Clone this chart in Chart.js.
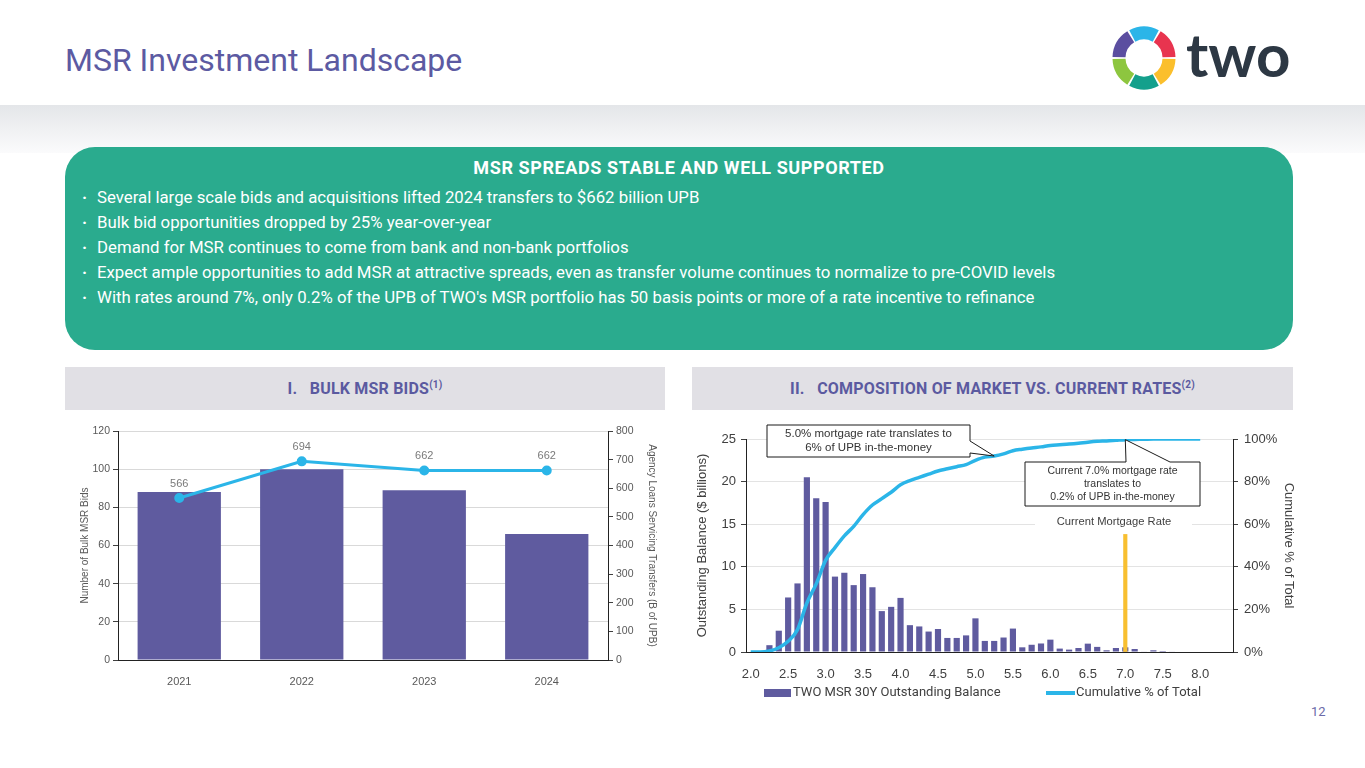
<!DOCTYPE html>
<html>
<head>
<meta charset="utf-8">
<script src="https://cdn.jsdelivr.net/npm/chart.js@4.4.1/dist/chart.umd.min.js"></script>
<style>
  body { margin: 0; background: #fff; }
  #page { position: relative; width: 1365px; height: 768px; overflow: hidden; background: #fff; font-family: Roboto, "Liberation Sans", sans-serif; }
  .title { position: absolute; left: 65px; top: 44px; font-size: 32px; line-height: 32px; color: #5c5aa2; }
  .band { position: absolute; left: 0; top: 105px; width: 1365px; height: 48px; background: linear-gradient(#e4e6e9, #fbfbfc); }
  .box { position: absolute; left: 65px; top: 147px; width: 1228px; height: 203px; background: #2aab8e; border-radius: 30px; color: #fff; }
  .boxtitle { position: absolute; left: 0; width: 100%; top: 10px; text-align: center; font-family: Roboto, sans-serif; font-weight: bold; font-size: 18px; letter-spacing: 0.6px; }
  .bullets { position: absolute; left: 17px; top: 38px; margin: 0; padding: 0; list-style: none; font-size: 16.8px; line-height: 25px; }
  .bullets li::before { content: "\00B7"; display: inline-block; width: 15px; font-weight: bold; }
  .hdr { position: absolute; top: 367px; width: 600px; height: 43px; background: #e1e0e5; color: #5b5aa0; text-align: center; line-height: 43px; font-family: Roboto, sans-serif; font-weight: bold; font-size: 16px; letter-spacing: 0.2px; }
  .hdr sup { font-size: 10px; line-height: 0; }
  .pnum { position: absolute; left: 1311px; top: 704px; font-size: 13px; color: #6b6aa8; }
  #c1wrap { position: absolute; left: 70px; top: 420px; width: 598px; height: 272px; }
  #c2wrap { position: absolute; left: 690px; top: 420px; width: 615px; height: 295px; }
  .logo { position: absolute; left: 1108px; top: 22px; width: 190px; height: 72px; }
</style>
</head>
<body>
<div id="page">
  <div class="title">MSR Investment Landscape</div>
  <svg class="logo" viewBox="0 0 190 72">
    <g fill="none" stroke-width="13" stroke-linecap="butt">
      <path d="M 24.26 13.93 A 25 25 0 0 1 47.74 13.93" stroke="#2bb5e8" transform="rotate(0 36 36)"/>
      <path d="M 24.26 13.93 A 25 25 0 0 1 47.74 13.93" stroke="#e8344f" transform="rotate(60 36 36)"/>
      <path d="M 24.26 13.93 A 25 25 0 0 1 47.74 13.93" stroke="#fbbf2c" transform="rotate(120 36 36)"/>
      <path d="M 24.26 13.93 A 25 25 0 0 1 47.74 13.93" stroke="#14a08c" transform="rotate(180 36 36)"/>
      <path d="M 24.26 13.93 A 25 25 0 0 1 47.74 13.93" stroke="#8dc63f" transform="rotate(240 36 36)"/>
      <path d="M 24.26 13.93 A 25 25 0 0 1 47.74 13.93" stroke="#5b4ea0" transform="rotate(300 36 36)"/>
    </g>
    <text x="78" y="55" font-family="Lato, 'Open Sans', sans-serif" font-weight="bold" font-size="60" fill="#2d3844">two</text>
  </svg>
  <div class="band"></div>
  <div class="box">
    <div class="boxtitle">MSR SPREADS STABLE AND WELL SUPPORTED</div>
    <ul class="bullets">
      <li>Several large scale bids and acquisitions lifted 2024 transfers to $662 billion UPB</li>
      <li>Bulk bid opportunities dropped by 25% year-over-year</li>
      <li>Demand for MSR continues to come from bank and non-bank portfolios</li>
      <li>Expect ample opportunities to add MSR at attractive spreads, even as transfer volume continues to normalize to pre-COVID levels</li>
      <li>With rates around 7%, only 0.2% of the UPB of TWO's MSR portfolio has 50 basis points or more of a rate incentive to refinance</li>
    </ul>
  </div>
  <div class="hdr" style="left:65px">I.&nbsp;&nbsp;&nbsp;BULK MSR BIDS<sup>(1)</sup></div>
  <div class="hdr" style="left:692px; width:601px">II.&nbsp;&nbsp;&nbsp;COMPOSITION OF MARKET VS. CURRENT RATES<sup>(2)</sup></div>
  <div id="c1wrap"><canvas id="bids"></canvas></div>
  <div id="c2wrap"><canvas id="rates"></canvas></div>
  <div class="pnum">12</div>
</div>
<script>
// ---- chart I data
const bidYears = ['2021', '2022', '2023', '2024'];
const bulkBids = [88, 100, 89, 66];
const transfersB = [566, 694, 662, 662];

// ---- chart II data
const rateBuckets = ['2.0','2.125','2.25','2.375','2.5','2.625','2.75','2.875','3.0','3.125','3.25','3.375',
  '3.5','3.625','3.75','3.875','4.0','4.125','4.25','4.375','4.5','4.625','4.75','4.875','5.0','5.125','5.25',
  '5.375','5.5','5.625','5.75','5.875','6.0','6.125','6.25','6.375','6.5','6.625','6.75','6.875','7.0','7.125',
  '7.25','7.375','7.5','7.625','7.75','7.875','8.0','8.125','8.25','8.375'];
const balanceBn = [0, 0, 0.8, 2.5, 6.4, 8.05, 20.5, 18.05, 17.6, 8.85, 9.3, 7.85,
  9.15, 7.6, 4.8, 5.3, 6.35, 3.15, 3.0, 2.4, 2.7, 1.65, 1.65, 1.95, 3.95, 1.3, 1.3,
  1.7, 2.75, 0.55, 0.85, 1.0, 1.45, 0.4, 0.28, 0.47, 0.98, 0.6, 0.2, 0.47, 0.55, 0.35,
  0.05, 0.2, 0.12, 0.05, 0, 0, 0, 0, 0, 0];
const cumulativePct = [0, 0, 0.5, 2, 5, 10.5, 23, 32, 43, 49, 54.5, 59,
  64.5, 69, 72, 75, 78.5, 80.5, 82, 83.5, 85, 86, 87, 88, 90, 91.5, 92,
  93, 94.5, 95.2, 95.8, 96.3, 97, 97.3, 97.6, 98, 98.5, 98.9, 99.1, 99.4, 99.7, 99.8,
  99.9, 100, 100, 100, 100, 100, 100, null, null, null];
const rateTickLabels = ['2.0','2.5','3.0','3.5','4.0','4.5','5.0','5.5','6.0','6.5','7.0','7.5','8.0'];
const currentRate = '7.0';
const currentRateMarker = 13.8;

const PURPLE = '#5f5b9f', CYAN = '#2bb5e8', YELLOW = '#f8bf30';
Chart.defaults.font.family = '"Liberation Sans", Arial, sans-serif';

// labels above the transfer line points
const pointLabels = {
  id: 'pointLabels',
  afterDatasetsDraw(chart) {
    const ctx = chart.ctx;
    const meta = chart.getDatasetMeta(0);
    ctx.save();
    ctx.font = '11px "Liberation Sans"';
    ctx.fillStyle = '#7a7a7a';
    ctx.textAlign = 'center';
    ctx.textBaseline = 'bottom';
    meta.data.forEach((pt, i) => ctx.fillText(transfersB[i], pt.x, pt.y - 9));
    ctx.restore();
  }
};

new Chart(document.getElementById('bids'), {
  type: 'bar',
  data: {
    labels: bidYears,
    datasets: [
      {
        type: 'line',
        label: 'Agency Loans Servicing Transfers',
        data: transfersB,
        yAxisID: 'y1',
        borderColor: CYAN,
        backgroundColor: CYAN,
        borderWidth: 3,
        pointRadius: 3.5,
        pointBackgroundColor: CYAN,
        order: 0
      },
      {
        label: 'Number of Bulk MSR Bids',
        data: bulkBids,
        yAxisID: 'y',
        backgroundColor: PURPLE,
        barPercentage: 0.68,
        categoryPercentage: 1,
        order: 1
      }
    ]
  },
  options: {
    responsive: true,
    maintainAspectRatio: false,
    animation: false,
    layout: { padding: { top: 11, left: 0, right: 0, bottom: 0 } },
    plugins: { legend: { display: false }, tooltip: { enabled: false } },
    scales: {
      x: {
        grid: { display: false },
        border: { display: true, color: '#222', width: 1 },
        ticks: { color: '#595959', font: { size: 11 }, padding: 7 },
        afterFit(s) { s.height = 32; }
      },
      y: {
        position: 'left',
        min: 0, max: 120,
        ticks: { stepSize: 20, color: '#595959', font: { size: 10.5 }, padding: 3 },
        grid: { color: '#d9d9d9', tickColor: '#404040', tickLength: 5 },
        border: { display: true, color: '#222', width: 1 },
        title: { display: true, text: 'Number of Bulk MSR Bids', color: '#595959', font: { size: 10 }, padding: { top: 9 } },
        afterFit(s) { s.width = 48; }
      },
      y1: {
        position: 'right',
        min: 0, max: 800,
        ticks: { stepSize: 100, color: '#595959', font: { size: 10.5 }, padding: 3 },
        grid: { drawOnChartArea: false, tickColor: '#404040', tickLength: 5 },
        border: { display: true, color: '#222', width: 1 },
        title: { display: true, text: 'Agency Loans Servicing Transfers (B of UPB)', color: '#595959', font: { size: 10 }, padding: { top: 10 } },
        afterFit(s) { s.width = 60; }
      }
    }
  },
  plugins: [pointLabels]
});

// callout boxes and the "Current Mortgage Rate" label
function calloutText(ctx, lines, cx, top, lh) {
  lines.forEach((t, i) => ctx.fillText(t, cx, top + lh * (i + 0.5)));
}
const rateNotes = {
  id: 'rateNotes',
  beforeDatasetsDraw(chart) {
    const { ctx, chartArea: a, scales: { y1 } } = chart;
    const ty = y1.getPixelForValue(60) - 2;
    ctx.save();
    ctx.fillStyle = '#fff';
    ctx.fillRect(a.left + 289, ty - 7, 157, 14);
    ctx.font = '11.2px "Liberation Sans"';
    ctx.fillStyle = '#404040';
    ctx.textAlign = 'center';
    ctx.textBaseline = 'middle';
    ctx.fillText('Current Mortgage Rate', a.left + 368, ty);
    ctx.restore();
  },
  afterDraw(chart) {
    const { ctx, chartArea: a, scales: { x, y1 } } = chart;
    ctx.save();
    ctx.lineWidth = 1;
    ctx.strokeStyle = '#1a1a1a';
    ctx.fillStyle = '#fff';
    // box 1: 5.0% note, pointing to the curve
    let L = a.left + 21, T = a.top - 14, W = 203, H = 32;
    let tx = x.getPixelForValue(26), ty = y1.getPixelForValue(cumulativePct[26]);
    ctx.beginPath();
    ctx.moveTo(L, T); ctx.lineTo(L + W, T); ctx.lineTo(L + W, T + 16);
    ctx.lineTo(tx, ty); ctx.lineTo(L + W, T + 28); ctx.lineTo(L + W, T + H);
    ctx.lineTo(L, T + H); ctx.closePath();
    ctx.fill(); ctx.stroke();
    ctx.fillStyle = '#333';
    ctx.font = '11.5px "Liberation Sans"';
    ctx.textAlign = 'center';
    ctx.textBaseline = 'middle';
    calloutText(ctx, ['5.0% mortgage rate translates to', '6% of UPB in-the-money'], L + W / 2, T + 2, 14);
    // box 2: current 7.0% note
    L = a.left + 279; T = a.top + 23; W = 175; H = 44;
    tx = x.getPixelForValue(40); ty = y1.getPixelForValue(cumulativePct[40]);
    ctx.fillStyle = '#fff';
    ctx.beginPath();
    ctx.moveTo(L, T); ctx.lineTo(L + 101, T); ctx.lineTo(tx, ty); ctx.lineTo(L + 145, T);
    ctx.lineTo(L + W, T); ctx.lineTo(L + W, T + H); ctx.lineTo(L, T + H); ctx.closePath();
    ctx.fill(); ctx.stroke();
    ctx.fillStyle = '#333';
    ctx.font = '10.5px "Liberation Sans"';
    calloutText(ctx, ['Current 7.0% mortgage rate', 'translates to', '0.2% of UPB in-the-money'], L + W / 2, T + 3, 13);
    ctx.restore();
  }
};

// legend drawn under the axis from the dataset styles
const rateLegend = {
  id: 'rateLegend',
  afterDraw(chart) {
    const { ctx, chartArea: a } = chart;
    const ds = chart.data.datasets;
    const y = a.bottom + 41;
    ctx.save();
    ctx.font = '13px Roboto';
    ctx.textBaseline = 'middle';
    ctx.fillStyle = ds[2].backgroundColor;
    ctx.fillRect(a.left + 18, y - 4, 27, 8);
    ctx.fillStyle = '#404040';
    ctx.fillText(ds[2].label, a.left + 47, y);
    ctx.strokeStyle = ds[0].borderColor;
    ctx.lineWidth = 4;
    ctx.beginPath(); ctx.moveTo(a.left + 300, y); ctx.lineTo(a.left + 329, y); ctx.stroke();
    ctx.fillText(ds[0].label, a.left + 330, y);
    ctx.restore();
  }
};

new Chart(document.getElementById('rates'), {
  type: 'bar',
  data: {
    labels: rateBuckets,
    datasets: [
      {
        type: 'line',
        label: 'Cumulative % of Total',
        data: cumulativePct,
        yAxisID: 'y1',
        borderColor: CYAN,
        borderWidth: 3.5,
        pointRadius: 0,
        cubicInterpolationMode: 'monotone',
        order: 0
      },
      {
        label: 'Current Mortgage Rate',
        data: [{ x: currentRate, y: currentRateMarker }],
        yAxisID: 'y',
        backgroundColor: YELLOW,
        barThickness: 3.5,
        grouped: false,
        order: 1
      },
      {
        label: 'TWO MSR 30Y Outstanding Balance',
        data: balanceBn,
        yAxisID: 'y',
        backgroundColor: PURPLE,
        barPercentage: 0.66,
        categoryPercentage: 1,
        grouped: false,
        order: 2
      }
    ]
  },
  options: {
    responsive: true,
    maintainAspectRatio: false,
    animation: false,
    layout: { padding: { top: 19, left: 0, right: 0, bottom: 35 } },
    plugins: { legend: { display: false }, tooltip: { enabled: false } },
    scales: {
      x: {
        grid: { display: false },
        border: { display: true, color: '#222', width: 1 },
        ticks: {
          autoSkip: false, maxRotation: 0, color: '#404040', font: { size: 13 }, padding: 7,
          callback: (v, i) => rateTickLabels.includes(rateBuckets[i]) ? rateBuckets[i] : ''
        },
        afterFit(s) { s.height = 28; }
      },
      y: {
        position: 'left',
        min: 0, max: 25,
        ticks: { stepSize: 5, color: '#404040', font: { size: 13 }, padding: 5 },
        grid: { color: '#e3e3e3', tickColor: '#404040', tickLength: 5 },
        border: { display: true, color: '#222', width: 1 },
        title: { display: true, text: 'Outstanding Balance ($ billions)', color: '#404040', font: { size: 13 }, padding: { top: 5 } },
        afterFit(s) { s.width = 56; }
      },
      y1: {
        position: 'right',
        min: 0, max: 100,
        ticks: { stepSize: 20, color: '#404040', font: { size: 13 }, padding: 6, callback: v => v + '%' },
        grid: { drawOnChartArea: false, tickColor: '#404040', tickLength: 5 },
        border: { display: true, color: '#222', width: 1 },
        title: { display: true, text: 'Cumulative % of Total', color: '#404040', font: { size: 13 }, padding: { top: 9 } },
        afterFit(s) { s.width = 72; }
      }
    }
  },
  plugins: [rateNotes, rateLegend]
});
</script>
</body>
</html>
